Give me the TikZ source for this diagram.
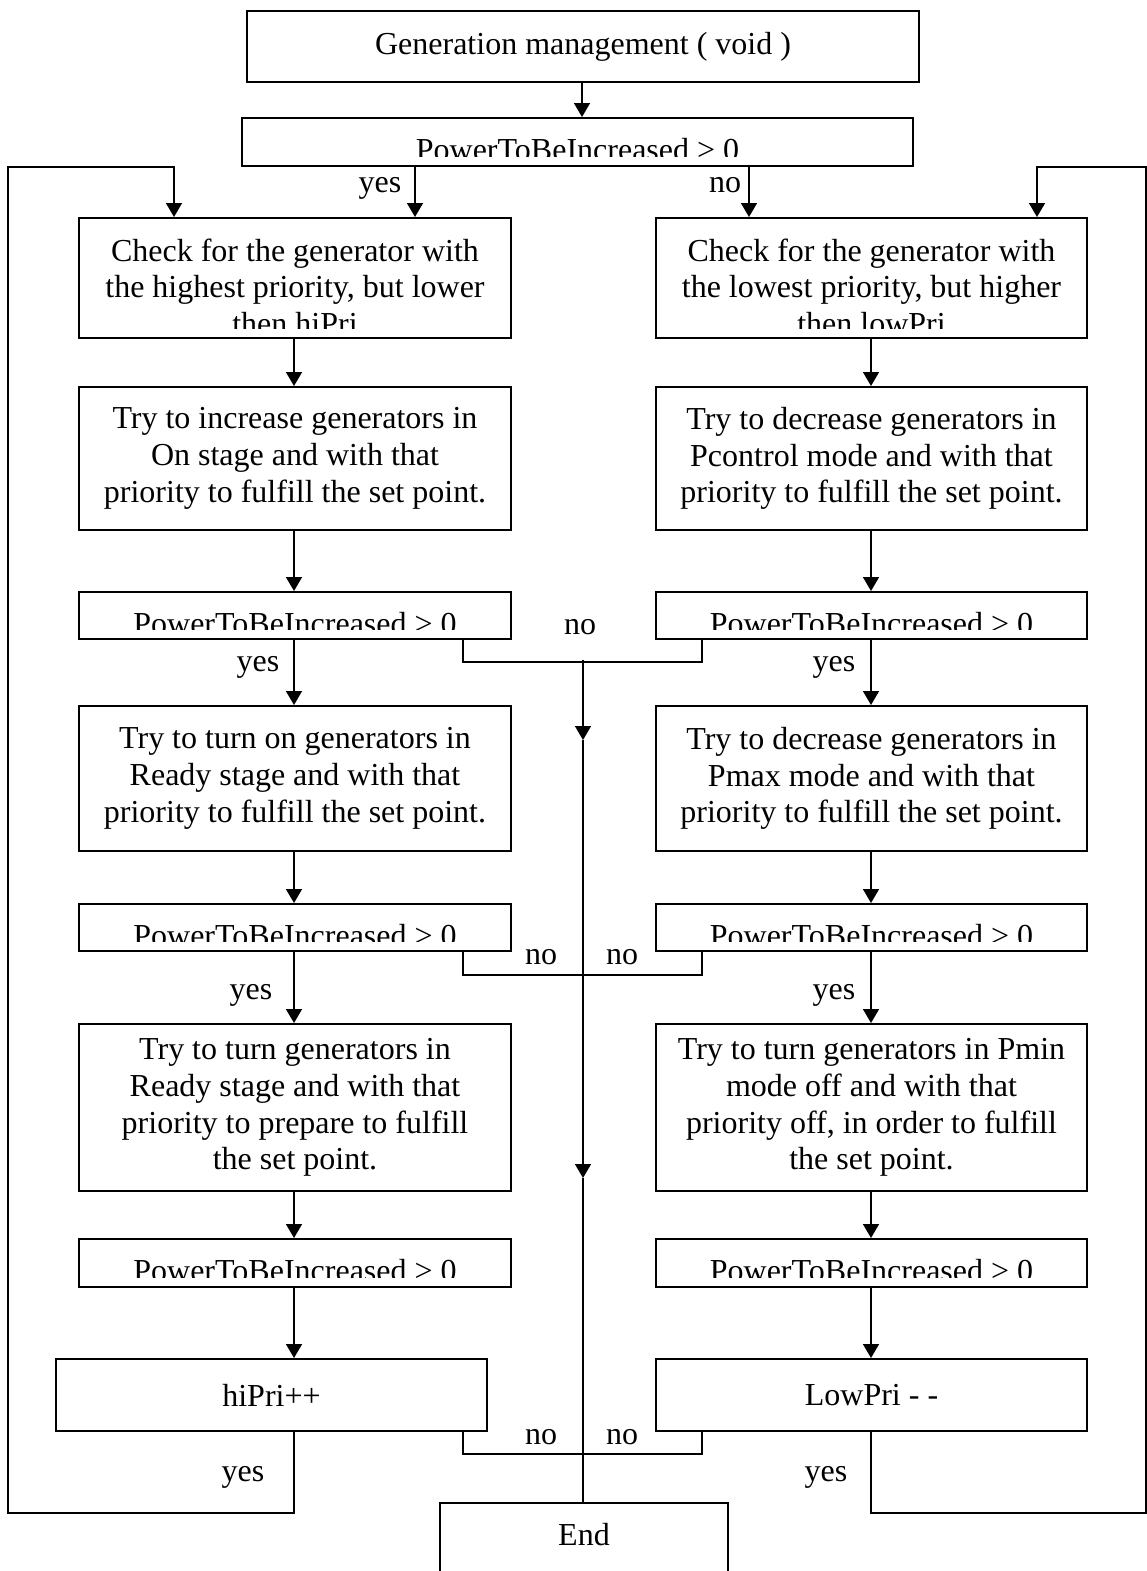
\documentclass[tikz,border=0pt]{standalone}
\usepackage{fontspec}
\setmainfont{Liberation Serif}
\usetikzlibrary{arrows.meta}

\tikzset{
  box/.style={draw, line width=2pt, anchor=north west, inner sep=0pt, align=center},
  line/.style={line width=1.6pt},
  arr/.style={line, -{Triangle[length=14pt,width=16pt]}},
  % text that runs past the lower margin of its box gets cut off
  cut/.style={path picture={
    \clip ([yshift=10pt]path picture bounding box.south west) rectangle (path picture bounding box.north east);
    \node[draw=none, minimum size=0pt, anchor=north, inner sep=0pt, align=center]
      at ([yshift=-19.5pt]path picture bounding box.north) {#1};}},
}

\begin{document}
\begin{tikzpicture}[x=1pt, y=-1pt, font=\fontsize{32}{36.7}\selectfont]
\useasboundingbox (0,0) rectangle (1147,1571);

% columns and loop corners
\coordinate (colL) at (294,0);
\coordinate (colR) at (871,0);
\coordinate (colM) at (583,0);
\coordinate (jL) at (463,0);
\coordinate (jR) at (702,0);
\coordinate (yes0) at (415,0);
\coordinate (no0) at (749,0);

% start and first test
\node[box, minimum width=672pt, minimum height=71pt] (start) at (246,10) {Generation management ( void )};
\node[box, minimum width=671pt, minimum height=48pt, cut={PowerToBeIncreased > 0}] (test0) at (241,117) {};

% left branch: raise the power
\node[box, minimum width=432pt, minimum height=120pt, cut={Check for the generator with\\the highest priority, but lower\\then hiPri}] (findL) at (78,217) {};
\node[box, minimum width=432pt, minimum height=143pt] (incL) at (78,386) {Try to increase generators in\\On stage and with that\\priority to fulfill the set point.};
\node[box, minimum width=432pt, minimum height=47pt, cut={PowerToBeIncreased > 0}] (test1L) at (78,591) {};
\node[box, minimum width=432pt, minimum height=145pt] (onL) at (78,705) {Try to turn on generators in\\Ready stage and with that\\priority to fulfill the set point.};
\node[box, minimum width=432pt, minimum height=47pt, cut={PowerToBeIncreased > 0}] (test2L) at (78,903) {};
\node[box, minimum width=432pt, minimum height=167pt] (prepL) at (78,1023) {Try to turn generators in\\Ready stage and with that\\priority to prepare to fulfill\\the set point.};
\node[box, minimum width=432pt, minimum height=48pt, cut={PowerToBeIncreased > 0}] (test3L) at (78,1238) {};
\node[box, minimum width=431pt, minimum height=72pt] (hiPri) at (55,1358) {hiPri++};

% right branch: lower the power
\node[box, minimum width=431pt, minimum height=120pt, cut={Check for the generator with\\the lowest priority, but higher\\then lowPri}] (findR) at (655,217) {};
\node[box, minimum width=431pt, minimum height=143pt] (decR) at (655,386) {Try to decrease generators in\\Pcontrol mode and with that\\priority to fulfill the set point.};
\node[box, minimum width=431pt, minimum height=47pt, cut={PowerToBeIncreased > 0}] (test1R) at (655,591) {};
\node[box, minimum width=431pt, minimum height=145pt] (pmaxR) at (655,705) {Try to decrease generators in\\Pmax mode and with that\\priority to fulfill the set point.};
\node[box, minimum width=431pt, minimum height=47pt, cut={PowerToBeIncreased > 0}] (test2R) at (655,903) {};
\node[box, minimum width=431pt, minimum height=167pt] (pminR) at (655,1023) {Try to turn generators in Pmin\\mode off and with that\\priority off, in order to fulfill\\the set point.};
\node[box, minimum width=431pt, minimum height=48pt, cut={PowerToBeIncreased > 0}] (test3R) at (655,1238) {};
\node[box, minimum width=431pt, minimum height=72pt] (lowPri) at (655,1358) {LowPri - -};

% end box runs off the bottom
\node[box, minimum width=288pt, inner ysep=20pt, text depth=68pt] (stop) at (439,1502) {End};

% arrows
\draw[arr] (start.south -| 582,0) -- (test0.north -| 582,0);
\draw[arr] (test0.south -| yes0) -- (findL.north -| yes0);
\draw[arr] (test0.south -| no0) -- (findR.north -| no0);

\foreach \a/\b in {findL/incL, incL/test1L, test1L/onL, onL/test2L, test2L/prepL, prepL/test3L, test3L/hiPri}
  \draw[arr] (\a.south -| colL) -- (\b.north -| colL);
\foreach \a/\b in {findR/decR, decR/test1R, test1R/pmaxR, pmaxR/test2R, test2R/pminR, pminR/test3R, test3R/lowPri}
  \draw[arr] (\a.south -| colR) -- (\b.north -| colR);

% "no" exits join the middle line
\draw[line] (test1L.south -| jL) -- ++(0,22) -| (test1R.south -| jR);
\draw[line] (test2L.south -| jL) -- ++(0,23) -| (test2R.south -| jR);
\draw[line] (hiPri.south -| jL) -- ++(0,22) -| (lowPri.south -| jR);
\coordinate (m0) at (583,660);
\coordinate (m1) at (583,740);
\coordinate (m2) at (583,1178);
\draw[arr] (m0) -- (m1);
\draw[arr] (m1) -- (m2);
\draw[line] (m2) -- (stop.north -| colM);

% loops back to the top
\coordinate (edgeL) at (8,1513);
\coordinate (backL) at (174,167);
\coordinate (edgeR) at (1146,1513);
\coordinate (backR) at (1037,167);
\draw[arr] (hiPri.south -| colL) |- (edgeL) |- (backL) -- (backL |- findL.north);
\draw[arr] (lowPri.south -| colR) |- (edgeR) |- (backR) -- (backR |- findR.north);

% labels
\node (y0) at (380,188) {yes};
\node (n0) at (725,185) {no};
\node (n1) at (580,627) {no};
\node (y1L) at (258,667) {yes};
\node (y1R) at (834,667) {yes};
\node (n2L) at (541,957) {no};
\node (n2R) at (622,957) {no};
\node (y2L) at (251,995) {yes};
\node (y2R) at (834,995) {yes};
\node (n3L) at (541,1437) {no};
\node (n3R) at (622,1437) {no};
\node (y3L) at (243,1477) {yes};
\node (y3R) at (826,1477) {yes};
\end{tikzpicture}
\end{document}
